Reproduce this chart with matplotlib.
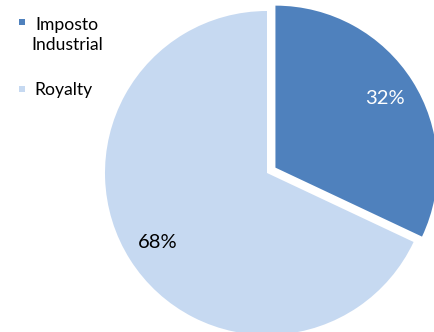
import matplotlib.pyplot as plt

# Data
labels = ["Imposto\nIndustrial", "Royalty"]
shares = [32, 68]
colors = ["#4F81BD", "#C6D9F1"]

plt.rcParams["font.family"] = ["Lato", "DejaVu Sans"]

W, H = 435, 332
fig = plt.figure(figsize=(W / 100, H / 100), dpi=100)
ax = fig.add_axes([0, 0, 1, 1])

# explode is in data units (pixels here)
wedges, texts, autotexts = ax.pie(
    shares,
    colors=colors,
    startangle=90,
    counterclock=False,
    explode=[10, 0],
    center=(267, 159),
    radius=162,
    autopct="%d%%",
    pctdistance=0.8,
    wedgeprops=dict(linewidth=0),
    textprops=dict(fontsize=14.5),
)
autotexts[0].set_color("white")
autotexts[1].set_color("black")

ax.set_xlim(0, W)
ax.set_ylim(0, H)
ax.set_aspect("equal")
ax.axis("off")

# Legend drawn by hand: marker on the first line, wrapped text centred
marker_y = [H - 21.7, H - 88.5]
text_x = [67, 63.5]
text_baseline = [H - 50.5, H - 95]
for lab, col, my, tx, ty in zip(labels, colors, marker_y, text_x, text_baseline):
    ax.scatter([22], [my], marker="s", s=18, color=col, linewidths=0)
    ax.text(tx, ty, lab, ha="center", va="baseline", multialignment="center",
            fontsize=12.6, linespacing=1.33)

fig.savefig("out.png", dpi=100)
